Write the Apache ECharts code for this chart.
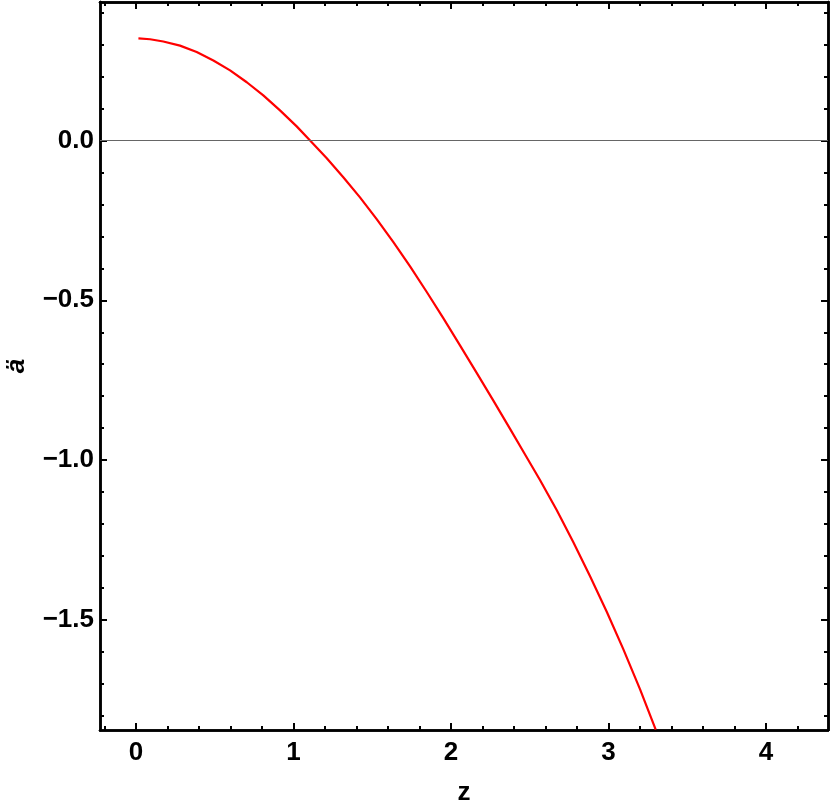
<!DOCTYPE html>
<html>
<head>
<meta charset="utf-8">
<script src="https://cdn.jsdelivr.net/npm/echarts@6/dist/echarts.min.js"></script>
<style>
html,body{margin:0;padding:0;background:#fff;}
#chart{width:830px;height:801px;}
</style>
</head>
<body>
<div id="chart"></div>
<script>
// Data (z, ä)
const zValues = [0.015, 0.089, 0.173, 0.279, 0.385, 0.491, 0.597, 0.703, 0.808, 0.914, 1.020, 1.105, 1.211, 1.316, 1.422, 1.528, 1.634, 1.740, 1.846, 1.951, 2.057, 2.163, 2.269, 2.375, 2.459, 2.565, 2.671, 2.777, 2.883, 2.989, 3.094, 3.200, 3.300];
const aValues = [0.319, 0.3165, 0.3095, 0.2965, 0.2765, 0.250, 0.219, 0.182, 0.141, 0.094, 0.044, 0.000, -0.056, -0.115, -0.178, -0.246, -0.318, -0.394, -0.474, -0.556, -0.641, -0.727, -0.814, -0.902, -0.973, -1.062, -1.156, -1.257, -1.363, -1.474, -1.591, -1.716, -1.843];

const xMajorTicks = [0, 1, 2, 3, 4];
const xMinorTicks = [-0.2, 0.2, 0.4, 0.6, 0.8, 1.2, 1.4, 1.6, 1.8, 2.2, 2.4, 2.6, 2.8, 3.2, 3.4, 3.6, 3.8, 4.2];
const yMajorTicks = [-1.5, -1.0, -0.5, 0.0];
const yMinorTicks = [-1.8, -1.7, -1.6, -1.4, -1.3, -1.2, -1.1, -0.9, -0.8, -0.7, -0.6, -0.4, -0.3, -0.2, -0.1, 0.1, 0.2, 0.3, 0.4];

const xMin = -0.229, xMax = 4.394;
const yMin = -1.844, yMax = 0.433;

const FONT = '"Liberation Sans", Arial, sans-serif';
const lineStyle = {color: '#000', width: 2.5};

function xAxisDef(pos, ticks, len, labels) {
  return {
    type: 'value', position: pos, min: xMin, max: xMax,
    axisLine: {show: true, onZero: false, lineStyle: lineStyle},
    axisTick: {show: true, inside: true, length: len, customValues: ticks, lineStyle: {color: '#000', width: 2}},
    axisLabel: labels ? {show: true, customValues: ticks, color: '#000', fontFamily: FONT, fontWeight: 'bold', fontSize: 26, margin: 10,
      formatter: v => String(Math.round(v))} : {show: false},
    splitLine: {show: false}
  };
}
function yAxisDef(pos, ticks, len, labels) {
  return {
    type: 'value', position: pos, min: yMin, max: yMax,
    axisLine: {show: true, onZero: false, lineStyle: lineStyle},
    axisTick: {show: true, inside: true, length: len, customValues: ticks, lineStyle: {color: '#000', width: 2}},
    axisLabel: labels ? {show: true, customValues: ticks, color: '#000', fontFamily: FONT, fontWeight: 'bold', fontSize: 26, margin: 6,
      formatter: v => (v < 0 ? '\u2212' : '') + Math.abs(v).toFixed(1)} : {show: false},
    splitLine: {show: false}
  };
}

const xAxes = [
  Object.assign(xAxisDef('bottom', xMajorTicks, 7, true), {name: 'z', nameLocation: 'middle', nameGap: 50,
    nameTextStyle: {color: '#000', fontFamily: FONT, fontWeight: 'bold', fontSize: 26}}),
  xAxisDef('bottom', xMinorTicks, 4, false),
  xAxisDef('top', xMajorTicks, 7, false),
  xAxisDef('top', xMinorTicks, 4, false)
];
const yAxes = [
  Object.assign(yAxisDef('left', yMajorTicks, 7, true), {name: 'ä', nameLocation: 'middle', nameGap: 70, nameRotate: 90,
    nameTextStyle: {color: '#000', fontFamily: FONT, fontWeight: 'bold', fontStyle: 'italic', fontSize: 26}}),
  yAxisDef('left', yMinorTicks, 4, false),
  yAxisDef('right', yMajorTicks, 7, false),
  yAxisDef('right', yMinorTicks, 4, false)
];

const chart = echarts.init(document.getElementById('chart'), null, {renderer: 'canvas'});
chart.setOption({
  animation: false,
  backgroundColor: '#fff',
  grid: {left: 100, right: 2, top: 2, bottom: 71, containLabel: false, outerBoundsMode: 'none'},
  xAxis: xAxes,
  yAxis: yAxes,
  series: [{
    type: 'line',
    xAxisIndex: 0, yAxisIndex: 0,
    data: zValues.map((z, i) => [z, aValues[i]]),
    smooth: false,
    showSymbol: false,
    clip: true,
    lineStyle: {color: '#ff0000', width: 2.2, join: 'round'},
    markLine: {
      silent: true, symbol: ['none', 'none'], label: {show: false},
      lineStyle: {color: '#666', width: 1.2, type: 'solid'},
      data: [{yAxis: 0}]
    },
    z: 3
  }]
});
</script>
</body>
</html>
